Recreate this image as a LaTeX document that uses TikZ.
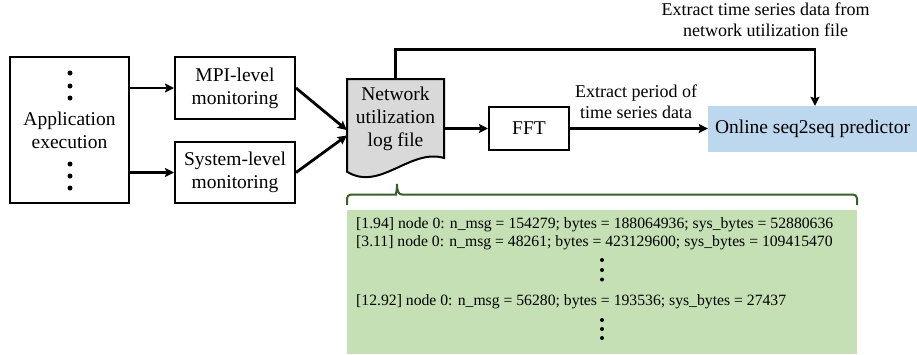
\documentclass[tikz,border=0pt]{standalone}
\usepackage{fontspec}
\setmainfont{Liberation Serif}
\usetikzlibrary{arrows.meta}
\definecolor{docgray}{HTML}{D9D9D9}
\definecolor{predblue}{HTML}{BDD7EE}
\definecolor{loggreen}{HTML}{C5E0B4}
\definecolor{bracegreen}{HTML}{3B5E2B}
\begin{document}
\begin{tikzpicture}[x=1pt,y=-1pt,
  box/.style={draw, line width=2pt, align=center, inner sep=0pt, font=\fontsize{19.5}{23}\selectfont},
  arr/.style={line width=2.8pt, -{Stealth[length=9pt,width=9pt,inset=1.5pt]}},
  lbl/.style={align=center, inner sep=0pt, font=\fontsize{18}{21}\selectfont},
  logtxt/.style={anchor=west, inner sep=0pt, font=\fontsize{15.7}{18}\selectfont},
  bigdot/.style={fill=black},
  brc/.style={draw=bracegreen, line width=2pt}]
\useasboundingbox (0,0) rectangle (917,354);

% application
\node[box, minimum width=119pt, minimum height=146pt] (app) at (69.5,130) {Application\\execution};
\fill[bigdot] (70,73) circle (2.5pt) (70,86) circle (2.5pt) (70,98) circle (2.5pt);
\fill[bigdot] (70,164) circle (2.5pt) (70,176) circle (2.5pt) (70,188) circle (2.5pt);

% monitoring
\node[box, minimum width=120pt, minimum height=62pt] (mpi) at (235,88) {MPI-level\\monitoring};
\node[box, minimum width=120pt, minimum height=61pt] (sys) at (235,172.5) {System-level\\monitoring};

% document
\filldraw[fill=docgray, line width=2pt, line join=miter] (347,79) -- (444,79) -- (444,158)
  .. controls (410,148) and (380,192) .. (347,171.7) -- cycle;
\node[inner sep=0pt, minimum width=97pt, minimum height=79pt, align=center,
  font=\fontsize{19.5}{23}\selectfont] (doc) at (395.5,118.5) {Network\\utilization\\log file};

% FFT and predictor
\node[box, minimum width=80pt, minimum height=43pt] (fft) at (529,128.5) {FFT};
\node[fill=predblue, inner sep=0pt, minimum width=209pt, minimum height=46pt,
  font=\fontsize{19.5}{23}\selectfont] (pred) at (812.5,129) {Online seq2seq predictor};

% arrows
\draw[arr] (app.east |- mpi.west) -- (mpi.west);
\draw[arr] (app.east |- sys.west) -- (sys.west);
\draw[arr] (mpi.east) -- ([yshift=-11.5pt]doc.west);
\draw[arr] (sys.east) -- ([yshift=-17pt]doc.west);
\draw[arr] (doc.east |- fft.west) -- (fft.west);
\draw[arr] (fft.east) -- (fft.east -| pred.west);
\draw[arr] (doc.north) -- ++(0,-29.5) -| ([xshift=2.5pt]pred.north);

% labels
\node[lbl] (perlbl) at (636,102) {Extract period of\\time series data};
\node[lbl] (tslbl) at (765.5,19.5) {Extract time series data from\\network utilization file};

% log box
\node[fill=loggreen, inner sep=0pt, minimum width=510pt, minimum height=144pt] (log) at (602,282) {};
\draw[brc] (347,205) [rounded corners=4pt] -- (347,194.5) -- (392,194.5) [sharp corners]
  .. controls (395.5,194.5) and (397,191) .. (397,184)
  .. controls (397,191) and (398.5,194.5) .. (402,194.5) [rounded corners=4pt]
  -- (857,194.5) -- (857,205);
\node[logtxt] (l1) at (356,225) {[1.94] node 0: n\_msg = 154279; bytes = 188064936; sys\_bytes = 52880636};
\node[logtxt] (l2) at (356,243) {[3.11] node 0: n\_msg = 48261; bytes = 423129600; sys\_bytes = 109415470};
\node[logtxt] (l3) at (356,302) {[12.92] node 0: n\_msg = 56280; bytes = 193536; sys\_bytes = 27437};
\fill[bigdot] (602,260) circle (2pt) (602,270) circle (2pt) (602,279.5) circle (2pt);
\fill[bigdot] (602,320) circle (2pt) (602,329) circle (2pt) (602,338) circle (2pt);
\end{tikzpicture}
\end{document}
